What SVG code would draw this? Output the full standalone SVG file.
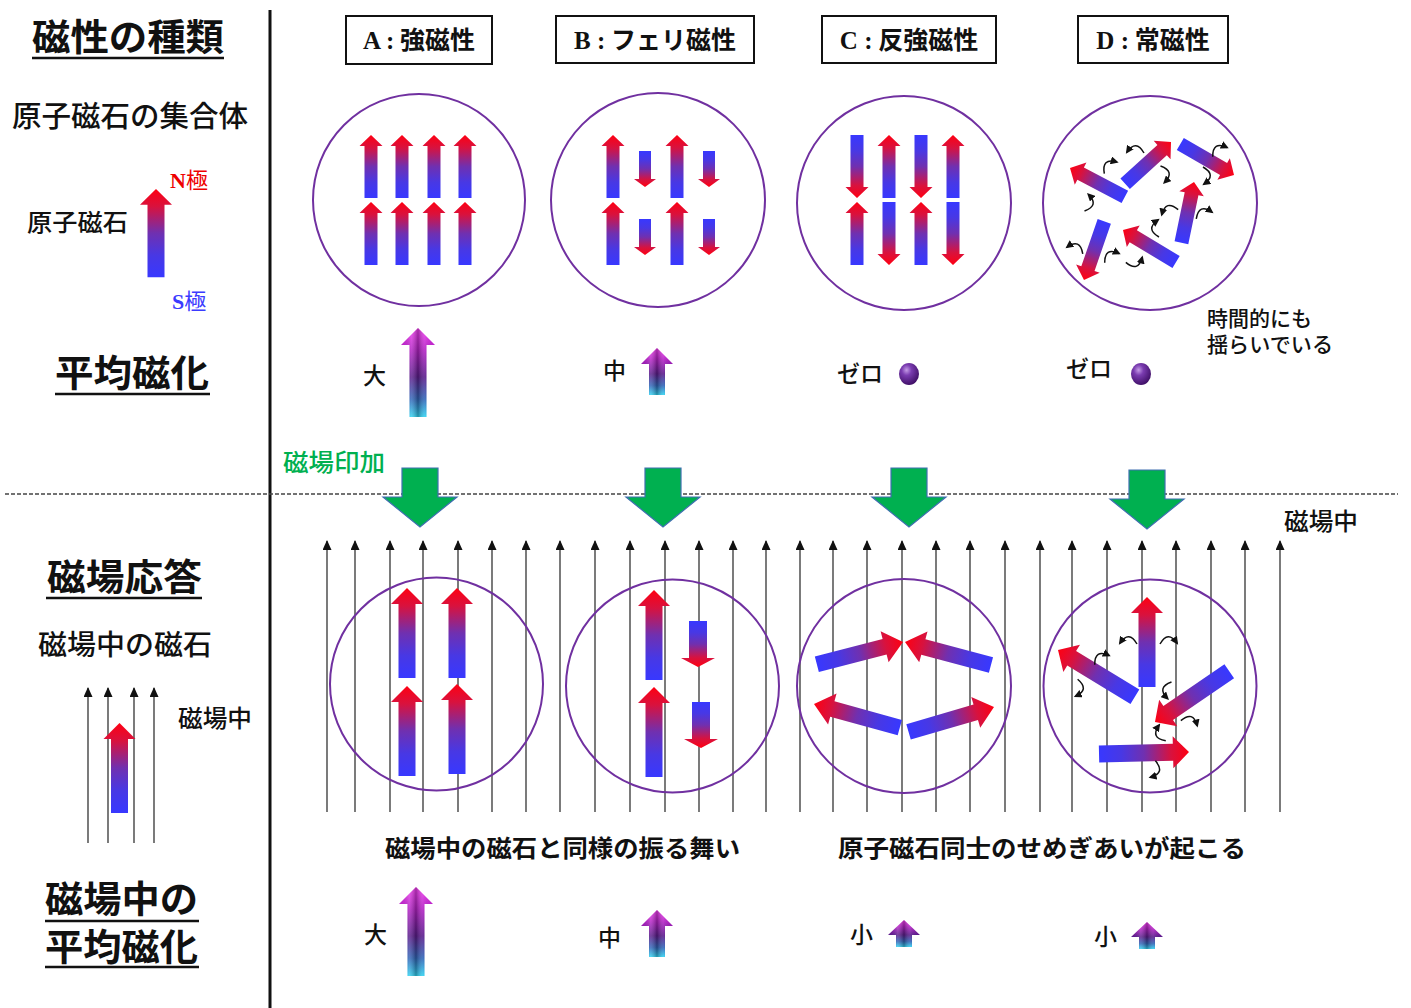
<svg xmlns="http://www.w3.org/2000/svg" width="1411" height="1008" viewBox="0 0 1411 1008">
<style>
  .t { font-family: "Noto Sans CJK JP", "Noto Sans", sans-serif; fill: #111; }
  .ttl { font-size: 37px; font-weight: 700; }
  .b { font-weight: 700; }
  .m { font-weight: 500; }
  .lat { font-family: "Liberation Serif", "Noto Sans CJK JP", serif; font-weight: 700; }
  .ul { stroke: #111; stroke-width: 2.5; }
  .ring { fill: none; stroke: #7030a0; stroke-width: 2; }
  .fl { stroke: #222; stroke-width: 1.2; marker-end: url(#fh); }
  .box { fill: #fff; stroke: #111; stroke-width: 2; }
  .mag { fill: url(#gMag); }
  .avg { fill: url(#gAvg); }
  .sh { fill: url(#gBevel); }
  .ga { fill: #00b050; stroke: #3f6fb0; stroke-width: 1.2; }
</style>
<defs>
  <linearGradient id="gMag" x1="0" y1="0" x2="0" y2="1">
    <stop offset="0" stop-color="#ff0012"/>
    <stop offset="0.2" stop-color="#d8123e"/>
    <stop offset="0.5" stop-color="#7030b0"/>
    <stop offset="0.75" stop-color="#4838e4"/>
    <stop offset="1" stop-color="#3838ff"/>
  </linearGradient>
  <linearGradient id="gAvg" x1="0" y1="0" x2="0" y2="1">
    <stop offset="0" stop-color="#f23cf0"/>
    <stop offset="0.25" stop-color="#b21fc4"/>
    <stop offset="0.55" stop-color="#5a1a8c"/>
    <stop offset="0.8" stop-color="#2e64b8"/>
    <stop offset="1" stop-color="#2fd2f2"/>
  </linearGradient>
  <linearGradient id="gBevel" x1="0" y1="0" x2="1" y2="0">
    <stop offset="0" stop-color="#000" stop-opacity="0"/>
    <stop offset="0.3" stop-color="#fff" stop-opacity="0.18"/>
    <stop offset="0.5" stop-color="#000" stop-opacity="0.3"/>
    <stop offset="0.7" stop-color="#fff" stop-opacity="0.12"/>
    <stop offset="1" stop-color="#000" stop-opacity="0"/>
  </linearGradient>
  <radialGradient id="gBall" cx="0.38" cy="0.32" r="0.7">
    <stop offset="0" stop-color="#c49be6"/>
    <stop offset="0.35" stop-color="#7a3cb0"/>
    <stop offset="1" stop-color="#3f0f66"/>
  </radialGradient>
  <marker id="fh" markerUnits="userSpaceOnUse" markerWidth="10" markerHeight="9" refX="9" refY="4.5" orient="auto">
    <path d="M0,0 L10,4.5 L0,9 Z" fill="#111"/>
  </marker>
  <marker id="ch" markerUnits="userSpaceOnUse" markerWidth="9" markerHeight="8" refX="6" refY="4" orient="auto">
    <path d="M0,0 L8,4 L0,8 Z" fill="#111"/>
  </marker>
  <!-- magnet arrows: tip at origin, pointing up -->
  <path id="mA" d="M0,0 L11.5,11 L6.5,11 L6.5,63 L-6.5,63 L-6.5,11 L-11.5,11 Z"/>
  <path id="mD" d="M0,0 L12.5,12 L7,12 L7,62 L-7,62 L-7,12 L-12.5,12 Z"/>
  <path id="mB" d="M0,0 L11,8 L6,8 L6,36 L-6,36 L-6,8 L-11,8 Z"/>
  <path id="mL" d="M0,0 L16,16 L8.5,16 L8.5,90 L-8.5,90 L-8.5,16 L-16,16 Z"/>
  <path id="mLS" d="M0,0 L17,9 L9,9 L9,46 L-9,46 L-9,9 L-17,9 Z"/>
  <path id="mC" d="M0,0 L16,19 L8,19 L8,89 L-8,89 L-8,19 L-16,19 Z"/>
  <!-- average magnetization arrows -->
  <path id="aBig" d="M0,0 L17,17 L8.5,17 L8.5,89 L-8.5,89 L-8.5,17 L-17,17 Z"/>
  <path id="aMid" d="M0,0 L16,16 L8,16 L8,47 L-8,47 L-8,16 L-16,16 Z"/>
  <path id="aSml" d="M0,0 L16,15 L8,15 L8,27 L-8,27 L-8,15 L-16,15 Z"/>
  <!-- applied-field arrow -->
  <path id="gArr" d="M-18,0 H18 V29 H37 L0,59 L-37,29 H-18 Z"/>
  <!-- small rotation hint -->
  <path id="cv" d="M-9,5 Q-1,-9 8,4" fill="none" stroke="#111" stroke-width="1.5" marker-end="url(#ch)"/>
</defs>

<rect width="1411" height="1008" fill="#fff"/>

<!-- frame lines -->
<g id="frame">
  <line x1="270" y1="10" x2="270" y2="1008" stroke="#111" stroke-width="3"/>
  <line x1="5" y1="494" x2="1398" y2="494" stroke="#444" stroke-width="1.5" stroke-dasharray="4 2"/>
</g>

<!-- left column labels -->
<g id="label-types">
  <text class="t ttl" x="32" y="51" textLength="192" lengthAdjust="spacingAndGlyphs">磁性の種類</text>
  <line class="ul" x1="32" y1="58" x2="224" y2="58"/>
</g>
<g id="label-assembly">
  <text class="t m" x="12" y="127" font-size="29" textLength="236" lengthAdjust="spacingAndGlyphs">原子磁石の集合体</text>
</g>
<g id="legend-magnet">
  <text class="t m" x="27" y="231" font-size="24" textLength="101" lengthAdjust="spacingAndGlyphs">原子磁石</text>
  <use href="#mL" class="mag" transform="translate(156,189) scale(1,0.98)"/>
  <text x="170" y="188" font-size="22" class="t"><tspan class="lat" fill="#ee0000">N</tspan><tspan fill="#ee0000">極</tspan></text>
  <text x="172" y="309" font-size="22" class="t"><tspan class="lat" fill="#3b3bff">S</tspan><tspan fill="#3b3bff">極</tspan></text>
</g>
<g id="label-average">
  <text class="t ttl" x="55" y="387" textLength="154" lengthAdjust="spacingAndGlyphs">平均磁化</text>
  <line class="ul" x1="55" y1="394" x2="210" y2="394"/>
</g>
<g id="label-response">
  <text class="t ttl" x="47" y="591" textLength="155" lengthAdjust="spacingAndGlyphs">磁場応答</text>
  <line class="ul" x1="46" y1="598" x2="202" y2="598"/>
</g>
<g id="label-field-magnet">
  <text class="t m" x="38" y="655" font-size="28" textLength="174" lengthAdjust="spacingAndGlyphs">磁場中の磁石</text>
</g>
<g id="legend-field">
  <line class="fl" x1="88" y1="843" x2="88" y2="688"/>
  <line class="fl" x1="108" y1="843" x2="108" y2="688"/>
  <line class="fl" x1="134" y1="843" x2="134" y2="688"/>
  <line class="fl" x1="154" y1="843" x2="154" y2="688"/>
  <use href="#mL" class="mag" transform="translate(119.5,723)"/>
  <text class="t m" x="178" y="727" font-size="24" textLength="74" lengthAdjust="spacingAndGlyphs">磁場中</text>
</g>
<g id="label-field-average">
  <text class="t ttl" x="45" y="913" textLength="153" lengthAdjust="spacingAndGlyphs">磁場中の</text>
  <line class="ul" x1="45" y1="921" x2="199" y2="921"/>
  <text class="t ttl" x="45" y="961" textLength="153" lengthAdjust="spacingAndGlyphs">平均磁化</text>
  <line class="ul" x1="45" y1="967" x2="199" y2="967"/>
</g>

<!-- column headers -->
<g id="head-A">
  <rect class="box" x="346" y="16" width="146" height="48"/>
  <text class="t b" x="419" y="49" font-size="25" text-anchor="middle"><tspan class="lat">A :</tspan> 強磁性</text>
</g>
<g id="head-B">
  <rect class="box" x="556" y="16" width="198" height="47"/>
  <text class="t b" x="655" y="49" font-size="25" text-anchor="middle"><tspan class="lat">B :</tspan> フェリ磁性</text>
</g>
<g id="head-C">
  <rect class="box" x="822" y="16" width="174" height="47"/>
  <text class="t b" x="909" y="49" font-size="25" text-anchor="middle"><tspan class="lat">C :</tspan> 反強磁性</text>
</g>
<g id="head-D">
  <rect class="box" x="1078" y="16" width="150" height="47"/>
  <text class="t b" x="1153" y="49" font-size="25" text-anchor="middle"><tspan class="lat">D :</tspan> 常磁性</text>
</g>

<!-- zero-field assemblies -->
<g id="ferro-zero">
  <circle class="ring" cx="419" cy="200" r="106"/>
  <use href="#mA" class="mag" transform="translate(371,135)"/>
  <use href="#mA" class="mag" transform="translate(402,135)"/>
  <use href="#mA" class="mag" transform="translate(434,135)"/>
  <use href="#mA" class="mag" transform="translate(465,135)"/>
  <use href="#mA" class="mag" transform="translate(371,202)"/>
  <use href="#mA" class="mag" transform="translate(402,202)"/>
  <use href="#mA" class="mag" transform="translate(434,202)"/>
  <use href="#mA" class="mag" transform="translate(465,202)"/>
</g>
<g id="ferri-zero">
  <circle class="ring" cx="658" cy="200" r="107"/>
  <use href="#mA" class="mag" transform="translate(613,135)"/>
  <use href="#mA" class="mag" transform="translate(677,135)"/>
  <use href="#mA" class="mag" transform="translate(613,202)"/>
  <use href="#mA" class="mag" transform="translate(677,202)"/>
  <use href="#mB" class="mag" transform="translate(645,187) rotate(180)"/>
  <use href="#mB" class="mag" transform="translate(709,187) rotate(180)"/>
  <use href="#mB" class="mag" transform="translate(645,255) rotate(180)"/>
  <use href="#mB" class="mag" transform="translate(709,255) rotate(180)"/>
</g>
<g id="antiferro-zero">
  <circle class="ring" cx="904" cy="203" r="107"/>
  <use href="#mA" class="mag" transform="translate(857,198) rotate(180)"/>
  <use href="#mA" class="mag" transform="translate(889,135)"/>
  <use href="#mA" class="mag" transform="translate(921,198) rotate(180)"/>
  <use href="#mA" class="mag" transform="translate(953,135)"/>
  <use href="#mA" class="mag" transform="translate(857,202)"/>
  <use href="#mA" class="mag" transform="translate(889,265) rotate(180)"/>
  <use href="#mA" class="mag" transform="translate(921,202)"/>
  <use href="#mA" class="mag" transform="translate(953,265) rotate(180)"/>
</g>
<g id="para-zero">
  <circle class="ring" cx="1150" cy="203" r="107"/>
  <use href="#mD" class="mag" transform="translate(1070,168) rotate(-62.2)"/>
  <use href="#mD" class="mag" transform="translate(1171,142) rotate(47.7)"/>
  <use href="#mD" class="mag" transform="translate(1234,175) rotate(120)"/>
  <use href="#mD" class="mag" transform="translate(1194,182) rotate(11.7)"/>
  <use href="#mD" class="mag" transform="translate(1123,230) rotate(-58.9)"/>
  <use href="#mD" class="mag" transform="translate(1084,280) rotate(-160.9)"/>
  <use href="#cv" transform="translate(1135,148) scale(-1,1)"/>
  <use href="#cv" transform="translate(1108,164) rotate(-40)"/>
  <use href="#cv" transform="translate(1091,203) rotate(100) scale(-1,1)"/>
  <use href="#cv" transform="translate(1167,174) rotate(80)"/>
  <use href="#cv" transform="translate(1208,176) rotate(90)"/>
  <use href="#cv" transform="translate(1218,148) rotate(-30)"/>
  <use href="#cv" transform="translate(1168,208) scale(-1,1) rotate(20)"/>
  <use href="#cv" transform="translate(1203,211) rotate(-20)"/>
  <use href="#cv" transform="translate(1154,228) rotate(-90)"/>
  <use href="#cv" transform="translate(1110,254) rotate(-30)"/>
  <use href="#cv" transform="translate(1076,246) scale(-1,1) rotate(-20)"/>
  <use href="#cv" transform="translate(1136,264) rotate(160) scale(-1,1)"/>
  <text class="t m" x="1207" y="326" font-size="21" textLength="105" lengthAdjust="spacingAndGlyphs">時間的にも</text>
  <text class="t m" x="1207" y="352" font-size="21" textLength="126" lengthAdjust="spacingAndGlyphs">揺らいでいる</text>
</g>

<!-- average magnetization, zero field -->
<g id="avg-zero">
  <text class="t m" x="363" y="384" font-size="23">大</text>
  <use href="#aBig" class="avg" transform="translate(418,328)"/>
  <use href="#aBig" class="sh" transform="translate(418,328)"/>
  <text class="t m" x="603" y="379" font-size="23">中</text>
  <use href="#aMid" class="avg" transform="translate(657,348)"/>
  <use href="#aMid" class="sh" transform="translate(657,348)"/>
  <text class="t m" x="837" y="382" font-size="23">ゼロ</text>
  <ellipse cx="909" cy="374" rx="10" ry="11" fill="url(#gBall)"/>
  <text class="t m" x="1066" y="377" font-size="23">ゼロ</text>
  <ellipse cx="1141" cy="374" rx="10" ry="11" fill="url(#gBall)"/>
</g>

<!-- applied field -->
<g id="apply-field">
  <text x="283" y="471" font-size="24" class="t m" style="fill:#00b050" textLength="102" lengthAdjust="spacingAndGlyphs">磁場印加</text>
  <use href="#gArr" class="ga" transform="translate(420,468)"/>
  <use href="#gArr" class="ga" transform="translate(663,468)"/>
  <use href="#gArr" class="ga" transform="translate(909,468)"/>
  <use href="#gArr" class="ga" transform="translate(1147,470)"/>
  <text class="t m" x="1284" y="530" font-size="24" textLength="74" lengthAdjust="spacingAndGlyphs">磁場中</text>
</g>

<!-- field lines -->
<g id="connectors">
  <line class="fl" x1="327" y1="812" x2="327" y2="541"/>
  <line class="fl" x1="355" y1="812" x2="355" y2="541"/>
  <line class="fl" x1="390" y1="812" x2="390" y2="541"/>
  <line class="fl" x1="423" y1="812" x2="423" y2="541"/>
  <line class="fl" x1="458" y1="812" x2="458" y2="541"/>
  <line class="fl" x1="492" y1="812" x2="492" y2="541"/>
  <line class="fl" x1="526" y1="812" x2="526" y2="541"/>
  <line class="fl" x1="560" y1="812" x2="560" y2="541"/>
  <line class="fl" x1="595" y1="812" x2="595" y2="541"/>
  <line class="fl" x1="630" y1="812" x2="630" y2="541"/>
  <line class="fl" x1="665" y1="812" x2="665" y2="541"/>
  <line class="fl" x1="699" y1="812" x2="699" y2="541"/>
  <line class="fl" x1="733" y1="812" x2="733" y2="541"/>
  <line class="fl" x1="766" y1="812" x2="766" y2="541"/>
  <line class="fl" x1="800" y1="812" x2="800" y2="541"/>
  <line class="fl" x1="833" y1="812" x2="833" y2="541"/>
  <line class="fl" x1="867" y1="812" x2="867" y2="541"/>
  <line class="fl" x1="902" y1="812" x2="902" y2="541"/>
  <line class="fl" x1="936" y1="812" x2="936" y2="541"/>
  <line class="fl" x1="970" y1="812" x2="970" y2="541"/>
  <line class="fl" x1="1005" y1="812" x2="1005" y2="541"/>
  <line class="fl" x1="1040" y1="812" x2="1040" y2="541"/>
  <line class="fl" x1="1072" y1="812" x2="1072" y2="541"/>
  <line class="fl" x1="1107" y1="812" x2="1107" y2="541"/>
  <line class="fl" x1="1142" y1="812" x2="1142" y2="541"/>
  <line class="fl" x1="1176" y1="812" x2="1176" y2="541"/>
  <line class="fl" x1="1211" y1="812" x2="1211" y2="541"/>
  <line class="fl" x1="1245" y1="812" x2="1245" y2="541"/>
  <line class="fl" x1="1280" y1="812" x2="1280" y2="541"/>
</g>

<!-- assemblies in field -->
<g id="ferro-field">
  <circle class="ring" cx="436.5" cy="684" r="106.5"/>
  <use href="#mL" class="mag" transform="translate(407,588)"/>
  <use href="#mL" class="mag" transform="translate(457,588)"/>
  <use href="#mL" class="mag" transform="translate(407,686)"/>
  <use href="#mL" class="mag" transform="translate(457,684)"/>
</g>
<g id="ferri-field">
  <circle class="ring" cx="672.5" cy="686" r="106.5"/>
  <use href="#mL" class="mag" transform="translate(654,590)"/>
  <use href="#mL" class="mag" transform="translate(654,687)"/>
  <use href="#mLS" class="mag" transform="translate(698,667) rotate(180)"/>
  <use href="#mLS" class="mag" transform="translate(701,748) rotate(180)"/>
</g>
<g id="antiferro-field">
  <circle class="ring" cx="904" cy="686" r="107"/>
  <use href="#mC" class="mag" transform="translate(903,642) rotate(75.5)"/>
  <use href="#mC" class="mag" transform="translate(905,642) rotate(-75)"/>
  <use href="#mC" class="mag" transform="translate(814,704) rotate(-74.6)"/>
  <use href="#mC" class="mag" transform="translate(994,707) rotate(73.8)"/>
</g>
<g id="para-field">
  <circle class="ring" cx="1150" cy="686" r="106.5"/>
  <use href="#mL" class="mag" transform="translate(1147,597)"/>
  <use href="#mL" class="mag" transform="translate(1058,650) rotate(-58.7)"/>
  <use href="#mL" class="mag" transform="translate(1155,722) rotate(-124.4)"/>
  <use href="#mL" class="mag" transform="translate(1189,752) rotate(88.7)"/>
  <use href="#cv" transform="translate(1128,639) scale(-1,1)"/>
  <use href="#cv" transform="translate(1169,639)"/>
  <use href="#cv" transform="translate(1100,656) rotate(-30)"/>
  <use href="#cv" transform="translate(1081,689) rotate(100)"/>
  <use href="#cv" transform="translate(1165,690) rotate(-80) scale(-1,1)"/>
  <use href="#cv" transform="translate(1191,719) rotate(20)"/>
  <use href="#cv" transform="translate(1158,734) rotate(-110)"/>
  <use href="#cv" transform="translate(1157,771) rotate(110)"/>
</g>

<!-- captions -->
<g id="caption-left">
  <text class="t b" x="385" y="857" font-size="24" textLength="355" lengthAdjust="spacingAndGlyphs">磁場中の磁石と同様の振る舞い</text>
</g>
<g id="caption-right">
  <text class="t b" x="838" y="857" font-size="24" textLength="408" lengthAdjust="spacingAndGlyphs">原子磁石同士のせめぎあいが起こる</text>
</g>

<!-- average magnetization in field -->
<g id="avg-field">
  <text class="t m" x="364" y="943" font-size="23">大</text>
  <use href="#aBig" class="avg" transform="translate(416,887)"/>
  <use href="#aBig" class="sh" transform="translate(416,887)"/>
  <text class="t m" x="598" y="946" font-size="23">中</text>
  <use href="#aMid" class="avg" transform="translate(657,910)"/>
  <use href="#aMid" class="sh" transform="translate(657,910)"/>
  <text class="t m" x="850" y="943" font-size="23">小</text>
  <use href="#aSml" class="avg" transform="translate(904,920)"/>
  <use href="#aSml" class="sh" transform="translate(904,920)"/>
  <text class="t m" x="1094" y="945" font-size="23">小</text>
  <use href="#aSml" class="avg" transform="translate(1147,922)"/>
  <use href="#aSml" class="sh" transform="translate(1147,922)"/>
</g>
</svg>
